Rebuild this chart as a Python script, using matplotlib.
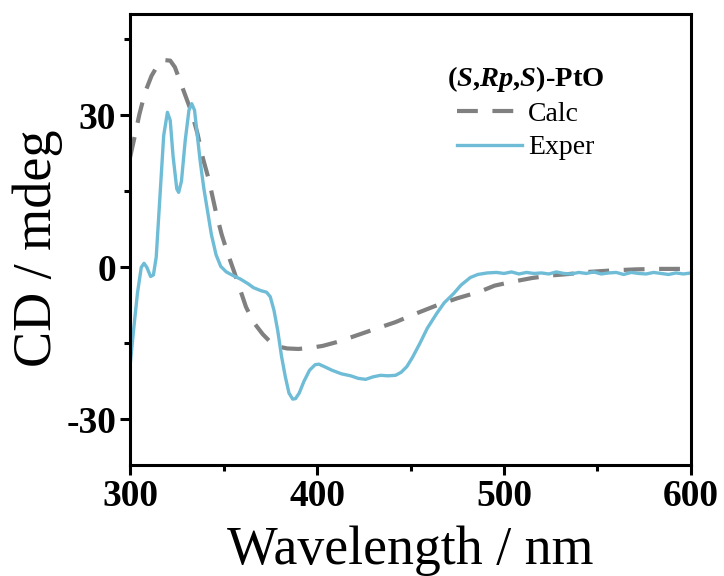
import numpy as np
import matplotlib
matplotlib.use("Agg")
import matplotlib.pyplot as plt
from matplotlib.ticker import MultipleLocator

plt.rcParams['font.family'] = ['Liberation Serif', 'DejaVu Serif']
plt.rcParams['axes.unicode_minus'] = False
plt.rcParams['mathtext.fontset'] = 'custom'
plt.rcParams['mathtext.rm'] = 'Liberation Serif'
plt.rcParams['mathtext.bf'] = 'Liberation Serif:bold'
plt.rcParams['mathtext.it'] = 'Liberation Serif:italic'
plt.rcParams['mathtext.bfit'] = 'Liberation Serif:bold:italic'

# 实验 CD 谱
exper_wl = [300, 302, 304, 306, 307.5, 309, 311, 312.5, 314, 316, 318, 320, 321.5,
            323, 325, 326, 327.5, 329.5, 331.5, 333, 334.5, 336, 337.5, 339.5, 341.5,
            343.5, 346, 348.5, 351.5, 355, 359, 363, 366, 370, 373, 375, 377, 379,
            381, 383, 385, 387, 388.5, 390.5, 393, 396, 399, 401, 404, 408, 413,
            418, 422, 426, 430, 434, 438, 442, 445, 448, 451, 455, 459, 464, 468,
            473, 477, 482, 486, 491, 496, 500, 504, 508, 512, 516, 520, 524, 528,
            532, 536, 540, 544, 548, 552, 556, 560, 564, 568, 572, 576, 580, 584,
            588, 592, 596, 600]
exper_cd = [-19.5, -12, -5, 0, 0.8, 0, -1.8, -1.5, 2, 14, 26, 30.6, 29,
            22, 15.5, 14.8, 17, 25, 31, 32.3, 31, 26, 21, 15.5, 11,
            6.5, 2.5, 0.2, -0.9, -1.6, -2.3, -3.2, -4.0, -4.6, -4.9, -5.8, -8.5, -12.5,
            -17.5, -21.5, -24.8, -26.0, -25.9, -24.8, -22.5, -20.3, -19.2, -19.1, -19.6, -20.3, -21.0,
            -21.4, -21.9, -22.1, -21.6, -21.3, -21.4, -21.3, -20.7, -19.6, -17.8, -15.0, -12.0, -9.1, -7.0,
            -5.2, -3.5, -2.0, -1.4, -1.1, -1.0, -1.2, -0.9, -1.3, -1.0, -1.2, -1.1, -1.3, -0.9,
            -1.2, -1.3, -1.0, -1.2, -0.9, -1.3, -1.1, -1.0, -1.4, -1.0, -1.2, -1.3, -1.0, -1.2,
            -1.4, -1.1, -1.3, -1.1]

# 计算 CD 谱
calc_wl = [300, 302, 305, 308, 311.5, 315, 318.5, 321.5, 324, 327, 330, 333, 336,
           339, 342, 346, 349, 352, 356, 359, 362, 366, 371, 375, 379, 384, 390,
           396, 403, 411, 419, 430, 442, 453, 464, 475, 487, 495, 505, 515, 525,
           535, 545, 558, 570, 582, 592, 600]
calc_cd = [21.7, 25, 30.2, 34.5, 37.8, 40, 40.9, 40.8, 39.5, 36.5, 33.5, 30.5, 26.5,
           21.5, 17.5, 10.8, 6.5, 3, -1.2, -4.5, -7.8, -10.8, -13.2, -14.7, -15.6, -16.0, -16.1,
           -15.9, -15.5, -14.7, -13.7, -12.3, -10.8, -9.1, -7.5, -6.1, -4.8, -3.6, -2.8, -2.1, -1.6,
           -1.3, -0.9, -0.6, -0.4, -0.3, -0.3, -0.3]

fig = plt.figure(figsize=(7.24, 5.76), dpi=100)
ax = fig.add_axes([0.1796, 0.1927, 0.7748, 0.783])

ax.plot(calc_wl, calc_cd, color='#808080', lw=3.0, dashes=(5, 3.5), label='Calc')
ax.plot(exper_wl, exper_cd, color='#6fbcd7', lw=2.4, label='Exper')

ax.set_xlim(300, 600)
ax.set_ylim(-39, 50)
ax.xaxis.set_major_locator(MultipleLocator(100))
ax.xaxis.set_minor_locator(MultipleLocator(50))
ax.yaxis.set_major_locator(MultipleLocator(30))
ax.yaxis.set_minor_locator(MultipleLocator(15))
ax.tick_params(which='major', direction='out', length=7, width=2.2, labelsize=27, pad=3)
ax.tick_params(which='minor', direction='out', length=4, width=2.2)
for lab in ax.get_xticklabels() + ax.get_yticklabels():
    lab.set_fontweight('bold')
for sp in ax.spines.values():
    sp.set_linewidth(2.2)

ax.set_xlabel('Wavelength / nm', fontsize=38.7, labelpad=8)
ax.set_ylabel('CD / mdeg', fontsize=39)
ax.yaxis.set_label_coords(-0.12, 0.48)

title = r'$\mathbf{(}\mathbfit{S}\mathbf{,}\mathbfit{Rp}\mathbf{,}\mathbfit{S}\mathbf{)}$-PtO'
leg = ax.legend(loc='upper left', bbox_to_anchor=(0.545, 0.914), frameon=False,
                fontsize=20, handlelength=2.35, handletextpad=0.2, labelspacing=0.28,
                borderaxespad=0, title=title, title_fontproperties={'weight': 'bold', 'size': 20.5})

fig.savefig('out.png', dpi=100)
